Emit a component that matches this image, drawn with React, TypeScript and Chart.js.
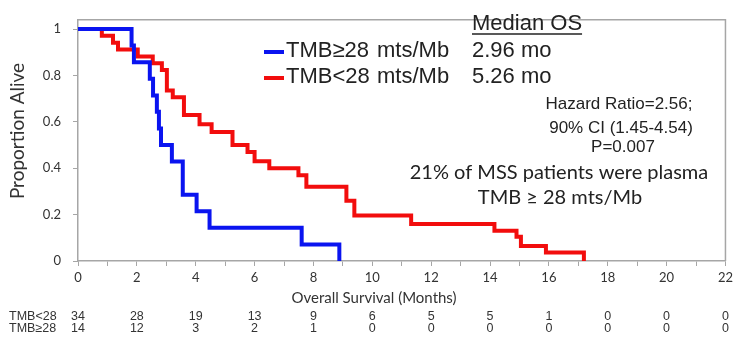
import React, { useEffect, useRef } from "react";
import { Chart, registerables } from "chart.js";

Chart.register(...registerables);

// At-risk table
const riskMonths = [0, 2, 4, 6, 8, 10, 12, 14, 16, 18, 20, 22];
const atRiskLow = [34, 28, 19, 13, 9, 6, 5, 5, 1, 0, 0, 0];
const atRiskHigh = [14, 12, 3, 2, 1, 0, 0, 0, 0, 0, 0, 0];

// TMB >= 28 (blue) Kaplan-Meier steps
const highTimes = [0, 1.82, 1.9, 2.44, 2.55, 2.68, 2.75, 2.82, 3.19, 3.56, 4.03, 4.47, 7.6, 8.88];
const highSurv = [1, 0.929, 0.857, 0.786, 0.714, 0.643, 0.571, 0.5, 0.429, 0.286, 0.214, 0.143, 0.071, 0];

// TMB < 28 (red) Kaplan-Meier steps
const lowTimes = [0, 0.81, 1.19, 1.36, 2.03, 2.54, 2.85, 3.02, 3.22, 3.6, 4.13, 4.54, 5.25, 5.76, 6.0, 6.5, 7.49, 7.76, 9.12, 9.39, 11.32, 14.15, 14.9, 15.05, 15.9, 17.19];
const lowSurv = [1, 0.971, 0.941, 0.912, 0.882, 0.853, 0.824, 0.735, 0.706, 0.63, 0.59, 0.556, 0.5, 0.47, 0.43, 0.4, 0.37, 0.32, 0.26, 0.196, 0.16, 0.13, 0.105, 0.065, 0.037, 0];

const seriesNames = ["TMB≥28", "TMB<28"];
const medians = ["2.96 mo", "5.26 mo"];

const ARIAL = '"Liberation Sans", Arial, sans-serif';
const CAL = 'Lato, "Open Sans", sans-serif';
const GRAY = "#a6a6a6";

const textPlugin = {
  id: "kmText",
  afterDraw(chart: any) {
    const ctx = chart.ctx;
    const ca = chart.chartArea;
    const xs = chart.scales.x;
    ctx.save();
    // frame top/right
    ctx.strokeStyle = GRAY;
    ctx.lineWidth = 1.5;
    ctx.beginPath();
    ctx.moveTo(ca.left, ca.top);
    ctx.lineTo(ca.right, ca.top);
    ctx.lineTo(ca.right, ca.bottom);
    ctx.stroke();

    const txt = (s: string, x: number, y: number, font: string, align: CanvasTextAlign = "left", color = "#222") => {
      ctx.font = font;
      ctx.fillStyle = color;
      ctx.textAlign = align;
      ctx.textBaseline = "middle";
      ctx.fillText(s, x, y);
    };

    // y title
    ctx.save();
    ctx.translate(18, 131);
    ctx.rotate(-Math.PI / 2);
    txt("Proportion Alive", 0, 0, `19px ${CAL}`, "center", "#333");
    ctx.restore();

    // legend / median block
    const big = `22px ${ARIAL}`;
    txt("Median OS", 472, 24, big, "left", "#222");
    ctx.font = big;
    const w = ctx.measureText("Median OS").width;
    ctx.strokeStyle = "#222";
    ctx.lineWidth = 1.5;
    ctx.beginPath();
    ctx.moveTo(472, 34);
    ctx.lineTo(472 + w, 34);
    ctx.stroke();

    const colors = ["#0a14f0", "#f20d0d"];
    const rows = [51, 77];
    for (let i = 0; i < 2; i++) {
      ctx.strokeStyle = colors[i];
      ctx.lineWidth = 4;
      ctx.beginPath();
      ctx.moveTo(264, rows[i] + 1);
      ctx.lineTo(284, rows[i] + 1);
      ctx.stroke();
      txt(seriesNames[i], 286, rows[i], big, "left", "#222");
      txt("mts/Mb", 377, rows[i], big, "left", "#222");
      txt(medians[i], 472, rows[i], big, "left", "#222");
    }

    const mid = `17px ${ARIAL}`;
    txt("Hazard Ratio=2.56;", 619, 104, mid, "center", "#222");
    txt("90% CI (1.45-4.54)", 621, 128, mid, "center", "#222");
    txt("P=0.007", 623, 147, mid, "center", "#222");

    const note = `20px ${CAL}`;
    txt("21% of MSS patients were plasma", 559, 173, note, "center", "#222");
    txt("TMB ≥ 28 mts/Mb", 560, 198, note, "center", "#222");

    // x title
    txt("Overall Survival (Months)", 374, 298, `15px ${CAL}`, "center", "#333");

    // at-risk table
    const tf = `12.5px ${ARIAL}`;
    txt("TMB<28", 9, 317, tf, "left", "#333");
    txt("TMB≥28", 9, 329, tf, "left", "#333");
    riskMonths.forEach((m, i) => {
      const px = xs.getPixelForValue(m);
      txt(String(atRiskLow[i]), px, 317, tf, "center", "#333");
      txt(String(atRiskHigh[i]), px, 329, tf, "center", "#333");
    });
    ctx.restore();
  },
};

export default function App() {
  const ref = useRef<HTMLCanvasElement | null>(null);
  useEffect(() => {
    document.body.style.margin = "0";
    const chart = new Chart(ref.current as HTMLCanvasElement, {
      type: "line",
      data: {
        datasets: [
          {
            label: seriesNames[0],
            data: highTimes.map((t, i) => ({ x: t, y: highSurv[i] })),
            borderColor: "#0a14f0",
            borderWidth: 4,
            pointRadius: 0,
            stepped: "before",
            fill: false,
          },
          {
            label: seriesNames[1],
            data: lowTimes.map((t, i) => ({ x: t, y: lowSurv[i] })),
            borderColor: "#f20d0d",
            borderWidth: 4,
            pointRadius: 0,
            stepped: "before",
            fill: false,
          },
        ],
      },
      options: {
        animation: false,
        responsive: true,
        maintainAspectRatio: false,
        layout: { padding: { top: 6, right: 10, left: 0, bottom: 0 } },
        plugins: { legend: { display: false }, tooltip: { enabled: false } },
        scales: {
          x: {
            type: "linear",
            min: 0,
            max: 22,
            afterFit: (s: any) => {
              s.height = 77;
            },
            ticks: {
              stepSize: 1,
              autoSkip: false,
              maxRotation: 0,
              padding: 4,
              color: "#333",
              font: { family: CAL, size: 13 },
              callback: (v: any) => (Number(v) % 2 === 0 ? String(v) : ""),
            },
            grid: { drawOnChartArea: false, drawTicks: true, tickLength: 5, color: GRAY, lineWidth: 1 },
            border: { display: true, color: GRAY, width: 1.5 },
          },
          y: {
            type: "linear",
            min: 0,
            max: 1.04,
            afterFit: (s: any) => {
              s.width = 78;
            },
            ticks: {
              stepSize: 0.2,
              includeBounds: false,
              padding: 12,
              color: "#333",
              font: { family: CAL, size: 13 },
              callback: (v: any) => String(Math.round(Number(v) * 10) / 10),
            },
            grid: { drawOnChartArea: false, drawTicks: true, tickLength: 5, color: GRAY, lineWidth: 1 },
            border: { display: true, color: GRAY, width: 1.5 },
          },
        },
      },
      plugins: [textPlugin],
    } as any);
    return () => chart.destroy();
  }, []);
  return (
    <div style={{ position: "fixed", left: 0, top: 0, width: 737, height: 338, background: "#fff" }}>
      <canvas ref={ref} />
    </div>
  );
}
